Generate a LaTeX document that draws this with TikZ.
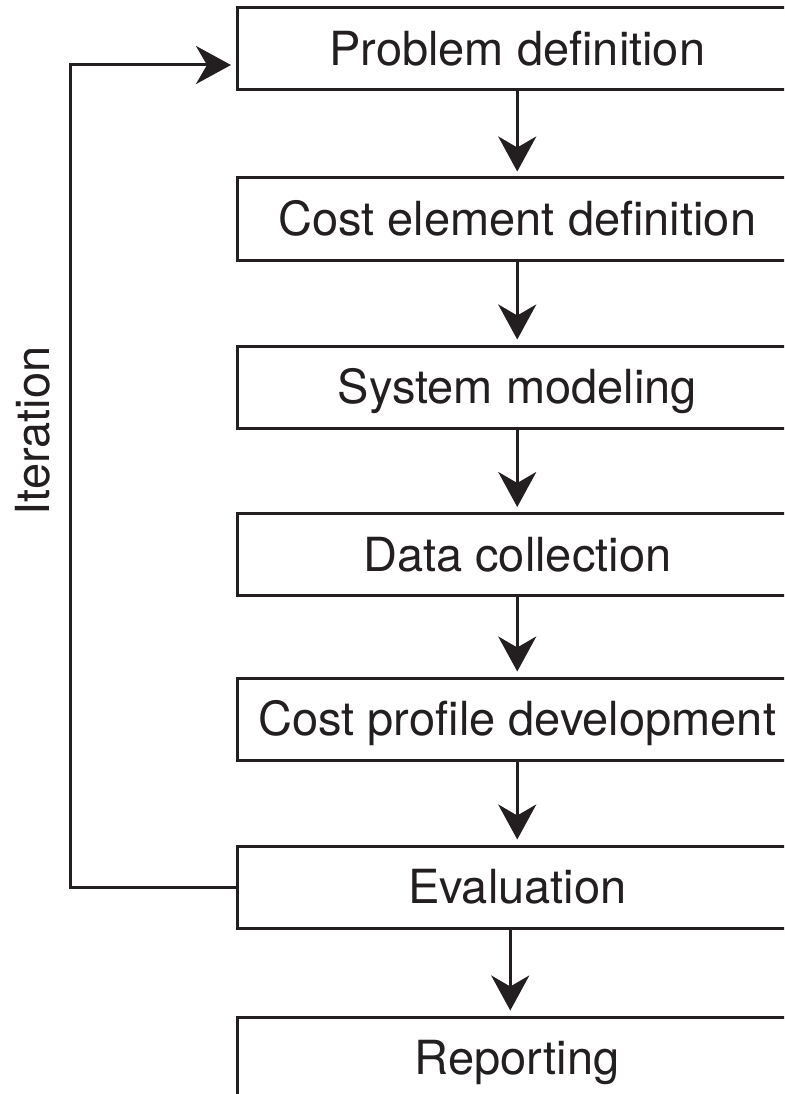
\documentclass[tikz,border=0pt]{standalone}
\usepackage{fontspec}
\setmainfont{TeX Gyre Heros}
\usetikzlibrary{arrows.meta}
\definecolor{ink}{HTML}{231F20}
\begin{document}
\begin{tikzpicture}[x=1pt,y=1pt,
  stepbox/.style={draw=ink, line width=3pt, minimum width=559.5pt, minimum height=82pt,
    inner sep=0pt, text height=33.7pt, text depth=0pt, text=ink,
    font=\fontsize{47}{56}\selectfont},
  flow/.style={draw=ink, line width=3pt, -{Stealth[length=35pt,width=38pt,inset=11pt]}, shorten >=5pt},
  lbl/.style={inner sep=0pt, text height=33.7pt, text depth=0pt, text=ink,
    font=\fontsize{47}{56}\selectfont}]
\clip (0,0) rectangle (784,-1094);
\fill[white] (0,0) rectangle (784,-1094);
\node[stepbox] (p1) at (517.25,-49) {Problem definition};
\node[stepbox] (p2) at (517.25,-219) {Cost element definition};
\node[stepbox] (p3) at (517.25,-387) {System modeling};
\node[stepbox] (p4) at (517.25,-554.5) {Data collection};
\node[stepbox] (p5) at (517.25,-719) {Cost profile development};
\node[stepbox] (p6) at (517.25,-887) {Evaluation};
\node[stepbox] (p7) at (517.25,-1058) {Reporting};
\node[lbl, rotate=90] (it) at (33,-431) {Iteration};
\draw[flow] (p1) -- (p2);
\draw[flow] (p2) -- (p3);
\draw[flow] (p3) -- (p4);
\draw[flow] (p4) -- (p5);
\draw[flow] (p5) -- (p6);
\draw[flow] ([xshift=-7pt]p6.south) -- ([xshift=-7pt]p6.south |- p7.north);
\coordinate (fbtop) at (70,-65);
\draw[flow, line join=miter] (p6.west) -| (fbtop) -- (fbtop -| p1.west);
\end{tikzpicture}
\end{document}
